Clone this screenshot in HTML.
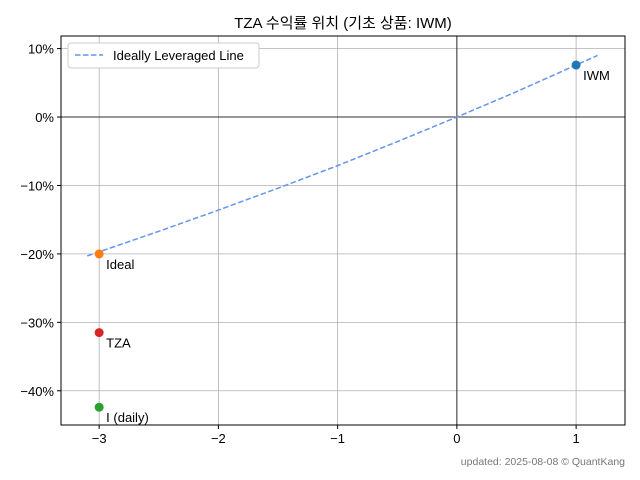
<!DOCTYPE html>
<html><head><meta charset="utf-8"><style>
body{margin:0;background:#fff;}
svg{display:block;font-family:"Liberation Sans","Noto Sans CJK KR",sans-serif;}
</style></head><body>
<svg id="chart" width="640" height="480" viewBox="0 0 640 480">
<rect x="0" y="0" width="640" height="480" fill="#fff"/>
<text x="343" y="28" text-anchor="middle" font-size="15" fill="#000">TZA 수익률 위치 (기초 상품: IWM)</text>
<g id="grid"></g>
<g id="marks"></g>
<rect x="61" y="36" width="564" height="389" fill="none" stroke="#000" stroke-width="1"/>
<g>
<rect x="68" y="43" width="191" height="25" rx="3" fill="#fff" stroke="#ccc"/>
<line x1="75" y1="55" x2="103" y2="55" stroke="#6495ED" stroke-width="1.5" stroke-dasharray="5.5,2.5"/>
<text x="113" y="60" font-size="13">Ideally Leveraged Line</text>
</g>
<text x="625" y="465" text-anchor="end" font-size="10.5" fill="#777">updated: 2025-08-08 © QuantKang</text>
</svg>
<script>
const xTicks=[-3,-2,-1,0,1];
const xTickLabels=['−3','−2','−1','0','1'];
const yTicks=[10,0,-10,-20,-30,-40];
const yTickLabels=['10%','0%','−10%','−20%','−30%','−40%'];
const lineX=[-3.1,-2.5,-2,-1.5,-1,-0.5,0,0.5,1,1.18];
const lineY=[-20.3,-16.7,-13.6,-10.4,-7.1,-3.6,0,3.7,7.6,9.0];
const pointNames=['IWM','Ideal','TZA','I (daily)'];
const pointX=[1,-3,-3,-3];
const pointY=[7.6,-20,-31.5,-42.4];
const pointColors=['#1f77b4','#ff7f0e','#d62728','#2ca02c'];

const L=61,R=625,T=36,B=425,xmin=-3.32,xmax=1.41,ymin=-45.0,ymax=11.84;
const sx=v=>L+(v-xmin)/(xmax-xmin)*(R-L);
const sy=v=>B-(v-ymin)/(ymax-ymin)*(B-T);
const NS='http://www.w3.org/2000/svg';
const grid=document.getElementById('grid'),marks=document.getElementById('marks');
function mk(tag,attrs,parent){const e=document.createElementNS(NS,tag);for(const k in attrs)e.setAttribute(k,attrs[k]);parent.appendChild(e);return e;}
xTicks.forEach((v,i)=>{
  const x=sx(v);
  const g=mk('line',{x1:x,y1:T,x2:x,y2:B,stroke:'#b0b0b0','stroke-width':0.8},grid);
  
  
  mk('line',{x1:x,y1:B,x2:x,y2:B+4,stroke:'#000'},grid);
  const t=mk('text',{x:x,y:B+18,'text-anchor':'middle','font-size':13},grid);
  t.textContent=xTickLabels[i];
  
  
});
yTicks.forEach((v,i)=>{
  const y=sy(v);
  const g=mk('line',{x1:L,y1:y,x2:R,y2:y,stroke:'#b0b0b0','stroke-width':0.8},grid);
  
  
  mk('line',{x1:L-4,y1:y,x2:L,y2:y,stroke:'#000'},grid);
  const t=mk('text',{x:L-7,y:y+5,'text-anchor':'end','font-size':13},grid);
  t.textContent=yTickLabels[i];
  
  
});
const zx=mk('line',{x1:sx(0),y1:T,x2:sx(0),y2:B,stroke:'#000','stroke-width':0.8},marks);


const zy=mk('line',{x1:L,y1:sy(0),x2:R,y2:sy(0),stroke:'#000','stroke-width':0.8},marks);


const pts=lineX.map((x,i)=>sx(x)+','+sy(lineY[i])).join(' ');
const pl=mk('polyline',{points:pts,fill:'none',stroke:'#6495ED','stroke-width':1.5,'stroke-dasharray':'5.5,2.5'},marks);


pointNames.forEach((n,i)=>{
  const c=mk('circle',{cx:sx(pointX[i]),cy:sy(pointY[i]),r:4.5,fill:pointColors[i]},marks);
  
  
  const t=mk('text',{x:sx(pointX[i])+7,y:sy(pointY[i])+15,'font-size':13},marks);
  t.textContent=n;
  
  
});
</script>
</body></html>
